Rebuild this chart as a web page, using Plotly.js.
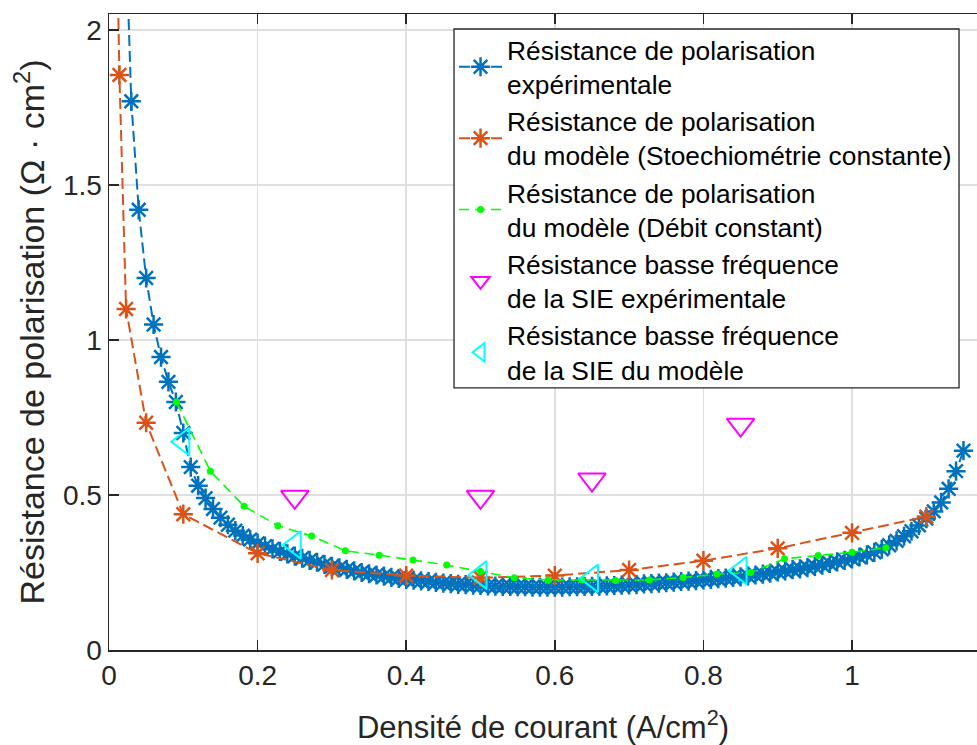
<!DOCTYPE html>
<html>
<head>
<meta charset="utf-8">
<script src="https://cdn.plot.ly/plotly-3.0.1.min.js"></script>
<style>
html,body{margin:0;padding:0;background:#fff;overflow:hidden;}
#chart{width:977px;height:745px;}
</style>
</head>
<body>
<div id="chart"></div>
<script>
// Résistance de polarisation expérimentale
const expX = [0.02,0.03,0.04,0.05,0.06,0.07,0.08,0.09,0.10,0.11,0.12,0.13,0.14,0.15,0.16,0.17,0.18,0.19,
  0.20,0.21,0.22,0.23,0.24,0.25,0.26,0.27,0.28,0.29,0.30,0.31,0.32,0.33,0.34,0.35,0.36,0.37,0.38,0.39,
  0.40,0.41,0.42,0.43,0.44,0.45,0.46,0.47,0.48,0.49,0.50,0.51,0.52,0.53,0.54,0.55,0.56,0.57,0.58,0.59,
  0.60,0.61,0.62,0.63,0.64,0.65,0.66,0.67,0.68,0.69,0.70,0.71,0.72,0.73,0.74,0.75,0.76,0.77,0.78,0.79,
  0.80,0.81,0.82,0.83,0.84,0.85,0.86,0.87,0.88,0.89,0.90,0.91,0.92,0.93,0.94,0.95,0.96,0.97,0.98,0.99,
  1.00,1.01,1.02,1.03,1.04,1.05,1.06,1.07,1.08,1.09,1.10,1.11,1.12,1.13,1.14,1.15];
const expY = [2.50,1.77,1.42,1.20,1.05,0.945,0.865,0.80,0.70,0.59,0.53,0.49,0.455,0.427,0.404,0.385,0.369,0.356,
  0.344,0.335,0.326,0.318,0.310,0.303,0.296,0.289,0.283,0.276,0.270,0.265,0.260,0.255,0.250,0.246,0.242,0.238,0.234,0.231,
  0.228,0.225,0.223,0.221,0.218,0.216,0.214,0.212,0.211,0.209,0.208,0.207,0.206,0.205,0.205,0.204,0.204,0.203,0.203,0.203,
  0.203,0.203,0.204,0.204,0.205,0.205,0.206,0.207,0.208,0.209,0.210,0.211,0.213,0.214,0.216,0.217,0.219,0.221,0.222,0.224,
  0.226,0.228,0.230,0.232,0.234,0.236,0.239,0.242,0.245,0.248,0.252,0.255,0.259,0.262,0.266,0.270,0.274,0.279,0.284,0.289,
  0.294,0.300,0.307,0.315,0.325,0.338,0.352,0.367,0.383,0.402,0.424,0.447,0.476,0.520,0.577,0.643];

// Modèle (Stoechiométrie constante)
const stoX = [0.01,0.014,0.023,0.05,0.1,0.2,0.3,0.4,0.5,0.6,0.7,0.8,0.9,1.0,1.1];
const stoY = [2.40,1.855,1.10,0.733,0.438,0.312,0.258,0.240,0.233,0.240,0.258,0.288,0.328,0.378,0.430];

// Modèle (Débit constant)
const debX = [0.0909,0.1364,0.1818,0.2273,0.2727,0.3182,0.3636,0.4091,0.4545,0.5,0.5455,
  0.5909,0.6364,0.6818,0.7273,0.7727,0.8182,0.8636,0.9091,0.9545,1.0,1.0455];
const debY = [0.80,0.577,0.464,0.401,0.368,0.320,0.306,0.290,0.274,0.253,0.233,
  0.226,0.226,0.224,0.226,0.234,0.245,0.250,0.294,0.305,0.315,0.330];

// Résistance basse fréquence SIE expérimentale
const sieExpX = [0.25,0.5,0.65,0.85];
const sieExpY = [0.494,0.494,0.55,0.727];

// Résistance basse fréquence SIE du modèle
const sieModX = [0.1,0.25,0.5,0.65,0.85];
const sieModY = [0.672,0.339,0.242,0.231,0.256];

const names = [
  "Résistance de polarisation<br>expérimentale",
  "Résistance de polarisation<br>du modèle (Stoechiométrie constante)",
  "Résistance de polarisation<br>du modèle (Débit constant)",
  "Résistance basse fréquence<br>de la SIE expérimentale",
  "Résistance basse fréquence<br>de la SIE du modèle"
];
const xTickVals = [0,0.2,0.4,0.6,0.8,1];
const xTickText = ["0","0.2","0.4","0.6","0.8","1"];
const yTickVals = [0,0.5,1,1.5,2];
const yTickText = ["0","0.5","1","1.5","2"];

const FONT = '"Liberation Sans", Arial, Helvetica, sans-serif';
const AX = '#262626';

const traces = [
  {x: expX, y: expY, name: names[0], mode: 'lines+markers', type: 'scatter',
   line: {color: '#0072BD', width: 2, dash: '11px,5px'},
   marker: {symbol: 'asterisk-open', size: 16, color: '#0072BD', line: {color: '#0072BD', width: 2.5}}},
  {x: stoX, y: stoY, name: names[1], mode: 'lines+markers', type: 'scatter',
   line: {color: '#D95319', width: 2, dash: '11px,5px'},
   marker: {symbol: 'asterisk-open', size: 16, color: '#D95319', line: {color: '#D95319', width: 2.5}}},
  {x: debX, y: debY, name: names[2], mode: 'lines+markers', type: 'scatter',
   line: {color: '#00FF00', width: 1.6, dash: '10px,6px'},
   marker: {symbol: 'circle', size: 7, color: '#00FF00', line: {width: 0}}},
  {x: sieExpX, y: sieExpY, name: names[3], mode: 'markers', type: 'scatter',
   marker: {symbol: 'triangle-down-open', size: 24, color: '#FF00FF', line: {color: '#FF00FF', width: 2}}},
  {x: sieModX, y: sieModY, name: names[4], mode: 'markers', type: 'scatter',
   marker: {symbol: 'triangle-left-open', size: 24, color: '#00FFFF', line: {color: '#00FFFF', width: 2}}}
];

const layout = {
  width: 977, height: 745,
  margin: {l: 109, r: 0, t: 14, b: 95},
  paper_bgcolor: '#fff', plot_bgcolor: '#fff',
  font: {family: FONT, color: AX},
  showlegend: true,
  legend: {
    x: 0.3975, y: 0.981, xanchor: 'left', yanchor: 'top',
    bgcolor: 'rgba(0,0,0,0)', borderwidth: 0,
    font: {family: FONT, size: 26.3, color: '#000'},
    itemwidth: 43, tracegroupgap: 0
  },
  shapes: [{
    type: 'rect', xref: 'paper', yref: 'paper',
    x0: 0.3975, x1: 0.9793, y0: 0.412, y1: 0.9764,
    fillcolor: '#ffffff', line: {color: AX, width: 1.3}, layer: 'above'
  }],
  xaxis: {
    range: [0, 1.1682], tickvals: xTickVals, ticktext: xTickText,
    ticks: 'inside', ticklen: 10, tickwidth: 1.5, tickcolor: AX,
    showline: true, linecolor: AX, linewidth: 1.5, mirror: 'ticks',
    showgrid: true, gridcolor: '#dfdfdf', gridwidth: 1.5, zeroline: false,
    tickfont: {family: FONT, size: 28, color: AX},
    title: {text: 'Densité de courant (A/cm<sup>2</sup>)', font: {family: FONT, size: 31, color: AX}, standoff: 29}
  },
  yaxis: {
    range: [0, 2.0516], tickvals: yTickVals, ticktext: yTickText,
    ticks: 'inside', ticklen: 10, tickwidth: 1.5, tickcolor: AX,
    showline: true, linecolor: AX, linewidth: 1.5, mirror: false,
    showgrid: true, gridcolor: '#dfdfdf', gridwidth: 1.5, zeroline: false,
    tickfont: {family: FONT, size: 28, color: AX},
    title: {text: 'Résistance de polarisation (Ω · cm<sup>2</sup>)', font: {family: FONT, size: 34, color: AX}, standoff: 8}
  }
};

Plotly.newPlot('chart', traces, layout, {displayModeBar: false, staticPlot: true});
</script>
</body>
</html>
